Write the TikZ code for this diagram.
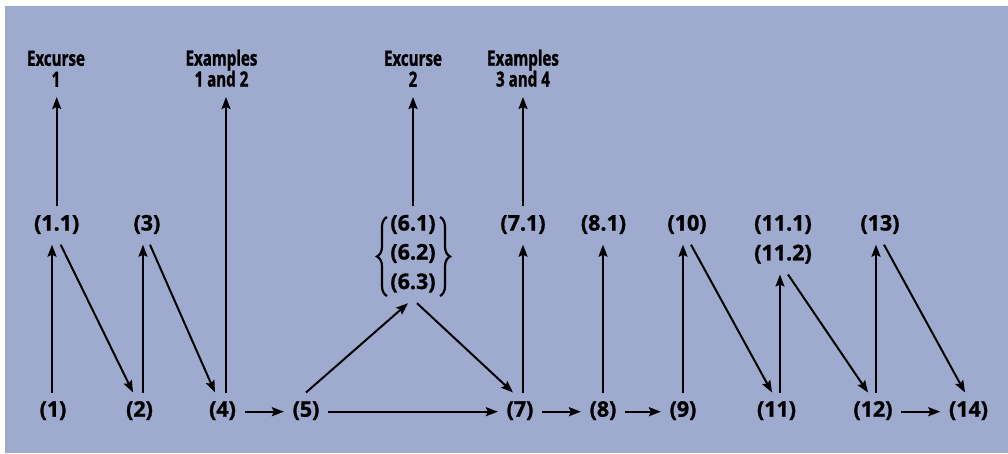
\documentclass[tikz,border=0pt]{standalone}
\usepackage{fontspec}
\setmainfont{Open Sans}[BoldFeatures={FakeBold=1.2}]
\newfontfamily\headfont{Open Sans}[FakeStretch=0.72,BoldFeatures={FakeBold=1.2}]
\usetikzlibrary{arrows.meta,calc,decorations.pathreplacing}
\definecolor{bgblue}{HTML}{9EABCE}
\begin{document}
\begin{tikzpicture}[x=1pt,y=-1pt,
  lbl/.style={font=\fontsize{21.5}{22}\selectfont\bfseries, text height=14pt, text depth=4pt, inner xsep=8.5pt, inner ysep=10pt},
  head/.style={font=\headfont\bfseries\fontsize{21}{21}\selectfont, align=center, inner xsep=0pt, inner ysep=10pt, anchor=south},
  arr/.style={-{Stealth[length=12pt,width=9pt,inset=2pt]}, line width=2pt},
  bracedeco/.style={decorate, decoration={brace, amplitude=10pt}, line width=2.2pt}]
\useasboundingbox (0,0) rectangle (1008,453);
\fill[white] (0,0) rectangle (1008,453);
\fill[bgblue] (5,6) rectangle (1008,453);
% headings
\node[head] (exc1) at (56,97) {Excurse\\1};
\node[head] (ex12) at (221.5,97) {Examples\\1 and 2};
\node[head] (exc2) at (413,97) {Excurse\\2};
\node[head] (ex34) at (523,97) {Examples\\3 and 4};
% middle row
\node[lbl] (n11a) at (56.7,225.5) {(1.1)};
\node[lbl] (n3) at (147,225.5) {(3)};
\node[lbl] (n61) at (413,225.5) {(6.1)};
\node[lbl] (n62) at (413,254.5) {(6.2)};
\node[lbl] (n63) at (413,284) {(6.3)};
\node[lbl] (n71) at (523,225.5) {(7.1)};
\node[lbl] (n81) at (603.5,225.5) {(8.1)};
\node[lbl] (n10) at (687,225.5) {(10)};
\node[lbl] (n111) at (783,225.5) {(11.1)};
\node[lbl] (n112) at (783,255.3) {(11.2)};
\node[lbl] (n13) at (880,225.5) {(13)};
% bottom row
\node[lbl] (n1) at (53,411.7) {(1)};
\node[lbl] (n2) at (139.5,411.7) {(2)};
\node[lbl] (n4) at (222.5,411.7) {(4)};
\node[lbl] (n5) at (306,411.7) {(5)};
\node[lbl] (n7) at (520,411.7) {(7)};
\node[lbl] (n8) at (603,411.7) {(8)};
\node[lbl] (n9) at (683,411.7) {(9)};
\node[lbl] (n11) at (776.5,411.7) {(11)};
\node[lbl] (n12) at (873,411.7) {(12)};
\node[lbl] (n14) at (968.5,411.7) {(14)};
% braces
\draw[bracedeco] ($(n63)+(-26,12)$) -- ($(n61)+(-26,-8.5)$);
\draw[bracedeco] ($(n61)+(27,-8.5)$) -- ($(n63)+(27,12)$);
% connectors
\draw[arr] ([xshift=-1pt]n1.north) -- ([xshift=-1pt]n1.north |- n11a.south);
\draw[arr] (n11a.north) -- (n11a.north |- exc1.south);
\draw[arr] ([xshift=4pt]n11a.south) -- ([xshift=-6.5pt]n2.north);
\draw[arr] ([xshift=3.5pt]n2.north) -- ([xshift=3.5pt]n2.north |- n3.south);
\draw[arr] ([xshift=3pt]n3.south) -- ([xshift=-7.5pt]n4.north);
\draw[arr] ([xshift=3.5pt]n4.north) -- ([xshift=3.5pt]n4.north |- ex12.south);
\draw[arr] (n4.east) -- (n5.west);
\draw[arr] (n5.north) -- ([xshift=-5pt]n63.south);
\draw[arr] (n5.east) -- (n7.west);
\draw[arr] ([xshift=4pt]n63.south) -- ([xshift=-7pt]n7.north);
\draw[arr] (n61.north) -- (exc2.south);
\draw[arr] ([xshift=3pt]n7.north) -- ([xshift=3pt]n7.north |- n71.south);
\draw[arr] (n71.north) -- (n71.north |- ex34.south);
\draw[arr] (n7.east) -- (n8.west);
\draw[arr] (n8.north) -- (n8.north |- n81.south);
\draw[arr] (n8.east) -- (n9.west);
\draw[arr] (n9.north) -- (n9.north |- n10.south);
\draw[arr] ([xshift=4pt]n10.south) -- ([xshift=-4.5pt]n11.north);
\draw[arr] ([xshift=3.5pt]n11.north) -- ([xshift=3.5pt]n11.north |- n112.south);
\draw[arr] ([xshift=5pt]n112.south) -- ([xshift=-5pt]n12.north);
\draw[arr] ([xshift=3pt]n12.north) -- ([xshift=3pt]n12.north |- n13.south);
\draw[arr] ([xshift=4pt]n13.south) -- ([xshift=-3.5pt]n14.north);
\draw[arr] (n12.east) -- (n14.west);
\end{tikzpicture}
\end{document}
